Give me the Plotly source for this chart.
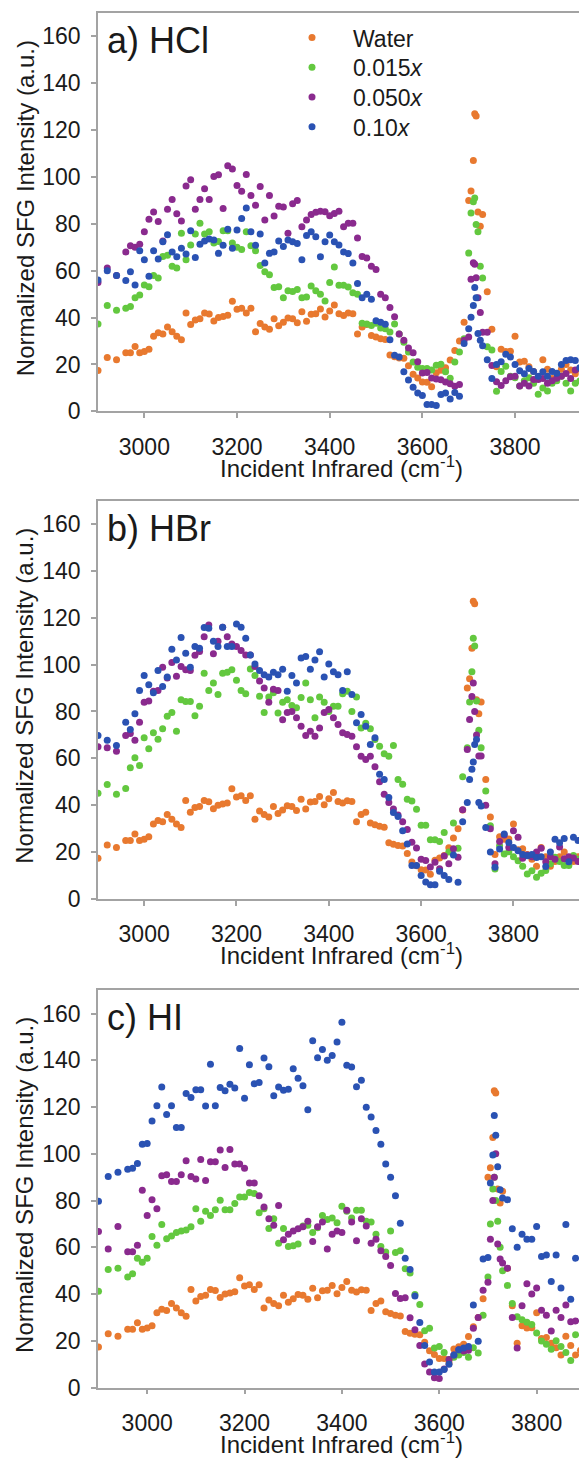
import plotly.graph_objects as go

# ---------------- data ----------------
# Incident IR wavenumber (cm-1) sampling used for every series
x_cm = [2900, 2920, 2940, 2960, 2970, 2980, 2990,
        3000, 3010, 3020, 3030, 3040, 3050, 3060, 3070, 3080, 3090,
        3100, 3110, 3120, 3130, 3140, 3150, 3160, 3170, 3180, 3190,
        3200, 3210, 3220, 3230, 3240, 3250, 3260, 3270, 3280, 3290,
        3300, 3310, 3320, 3330, 3340, 3350, 3360, 3370, 3380, 3390,
        3400, 3410, 3420, 3430, 3440, 3450, 3460, 3470, 3480, 3490,
        3500, 3510, 3520, 3530, 3540, 3550, 3560, 3570, 3580, 3590,
        3600, 3610, 3620, 3630, 3640, 3650, 3660, 3670, 3680, 3690,
        3700, 3705, 3710, 3713, 3716, 3720, 3725, 3730,
        3740, 3750, 3760, 3770, 3780, 3790, 3800, 3810, 3820, 3830,
        3840, 3850, 3860, 3870, 3880, 3890, 3900, 3910, 3920, 3930, 3940]

water = [17.4, 23, 22, 25, 25, 27.7, 25,
         25.5, 26.5, 32, 33.5, 33, 36, 34, 32, 30.5, 42,
         37, 39, 39.5, 42, 41.5, 38.5, 40, 40.5, 41, 47,
         43.5, 44, 42, 44, 34, 37.5, 36, 35, 39.5, 36.5,
         38, 39.8, 39.5, 37.8, 42.5, 38.4, 41.4, 41.6, 43.7, 40.2,
         42.8, 45.4, 41.6, 40.9, 41.9, 41.6, 33, 36, 37, 32.4,
         31.7, 31, 30.6, 24, 23.3, 22.8, 22.6, 19.4, 15.8, 14.2,
         12.5, 12.4, 10.5, 16.5, 17.5, 18.6, 21.9, 26, 30, 38,
         90, 94, 107, 127, 126, 85, 79, 84,
         51, 35, 19, 26.5, 25.5, 25.6, 32, 21, 21.4, 19,
         17, 14, 22, 18, 14, 16, 18, 20, 17.6, 16, 18]

hcl_015 = [37.3, 45.2, 43.1, 44, 44.7, 48.5, 49.6,
           53.9, 53.2, 58, 56.9, 66.1, 66.6, 61.9, 61.2, 76, 64.7,
           71, 75.7, 80.2, 75.7, 76.6, 71.8, 72.5, 77, 77, 71.8,
           70, 69, 76.6, 70.6, 68.5, 62.2, 59.5, 58.3, 52.8, 53.1,
           48.5, 51.4, 51.1, 52, 48.5, 48.8, 53.5, 51.4, 50, 47.1,
           55, 61.6, 53.8, 53.8, 53, 50.6, 50, 37.6, 37.3, 36.6,
           37.6, 35.6, 35.2, 33.8, 37.3, 33, 29.5, 25.3, 21, 18.8,
           18.3, 18.3, 17.6, 19.7, 20.1, 16.9, 14.1, 21, 25.3, 31,
           67.5, 84.6, 89.4, 91, 79.7, 76.6, 61.9, 56.9,
           27.6, 26.2, 8.6, 17, 19.2, 15, 14.3, 10.8, 13, 14.3,
           12, 7.3, 10, 8.7, 12, 13, 15, 12, 8.7, 12, 13]

hcl_050 = [55, 61.2, 58, 68, 70.6, 70, 71.3,
           76.6, 82, 85, 81, 72.7, 86.2, 90.4, 84.3, 81.2, 96.1,
           98.8, 86.2, 90.4, 95, 90.4, 100.2, 100.9, 86.5, 104.8, 103.4,
           96.4, 93.9, 101, 92.1, 87.9, 95.9, 81.6, 92.1, 83.3, 87.5,
           87.2, 76, 88.6, 90, 78.7, 81.6, 84, 84.9, 85.4, 85.1,
           83.4, 84.4, 85.4, 78.8, 80.2, 80.2, 73.9, 66.1, 65.4, 61.9,
           60.5, 49.9, 48.5, 44.3, 40.4, 33, 30.3, 27, 25, 21.2,
           16.3, 16.6, 14.2, 13.8, 13.5, 12.5, 11.8, 10.7, 11.4, 30.3,
           31.7, 56.3, 63.4, 62.7, 57, 48.5, 42.2, 33.7,
           33.7, 19.5, 12.6, 11, 13, 14.8, 15, 10.8, 12, 10.8,
           13.6, 13.6, 14, 12, 13, 14.1, 15, 16.1, 14, 17.6, 18.3]

hcl_010 = [56, 60, 58, 55.8, 59.5, 53.9, 68.5,
           64.7, 57.6, 68.5, 65, 72.3, 75.3, 68, 66, 69.6, 67.1,
           77, 65.6, 71.3, 72.7, 73.5, 73.1, 67.4, 70.9, 77.7, 69.6,
           77.4, 82.3, 86.8, 76.6, 70.9, 75.7, 63.3, 67.4, 68, 72.7,
           70.3, 73.1, 72.3, 71.6, 64.7, 75, 76.6, 74.5, 66, 72.3,
           75.2, 72.3, 71, 68, 67.3, 63.3, 54.5, 48.5, 50, 47.8,
           38.6, 38, 37.2, 30.5, 23.9, 23.2, 16.9, 13.4, 10.3, 7.8,
           6.7, 2.9, 2.9, 2.5, 7.2, 7.8, 5.3, 8, 6.4, 28.9,
           35.2, 40.1, 45.1, 52.8, 48.5, 33.2, 30.3, 28,
           22, 14, 20, 21.2, 24.3, 23.2, 20, 17.3, 16, 18.3,
           17, 15, 16.9, 15, 17, 16.2, 20, 21.7, 22, 21.7, 18.6]

hbr_015 = [45.1, 48.8, 44.7, 47.1, 56, 60.3, 57,
           68.8, 64.1, 70.9, 68.1, 72.6, 78, 79.6, 71.6, 85, 84.3,
           84.3, 78.2, 82.2, 96.3, 89, 92.2, 87.2, 96.3, 96.7, 97.8,
           93.3, 89, 87.6, 98.1, 95.3, 86.5, 79.6, 86.2, 88, 79.4,
           83.9, 85, 82.5, 81.6, 86, 92.1, 85, 77.3, 86.2, 83.9,
           80, 82.2, 82.2, 87.6, 88.6, 80, 86.2, 73, 75, 72.6,
           68, 65.2, 62, 60.9, 65.5, 51, 48.9, 42.5, 41.8, 38.3,
           31.5, 31.5, 25.3, 25.3, 24.5, 28.4, 20, 32.4, 21.6, 52.2,
           64.5, 84, 97, 111.2, 107.9, 84.5, 72, 64.5,
           46.1, 31.2, 12.8, 22.7, 19.2, 20.2, 18, 16.3, 14, 10.7,
           12, 9.3, 11, 12.1, 15, 17.8, 16, 14.3, 14.3, 18.5, 17]

hbr_050 = [64.9, 64.5, 63, 69.7, 70.6, 67.7, 75.4,
           83.9, 84.5, 88.6, 89, 98.9, 94.3, 100.9, 95, 99.2, 97.8,
           97.5, 104, 105.6, 111.9, 116.9, 104.6, 110, 115.9, 111.9, 108.8,
           107.7, 106, 104.1, 104.1, 99.2, 93, 90, 83.9, 89.5, 89,
           76.5, 79.6, 80, 77.3, 73.7, 69.7, 71.6, 69.4, 73, 79.6,
           80.8, 77.3, 74.4, 70.9, 70.2, 69.4, 64.9, 60.9, 59.5, 60.9,
           56.4, 50, 44.7, 41.2, 38.4, 35.8, 33, 29.6, 24.2, 21.7,
           16.9, 16.4, 13.6, 15.7, 12.9, 18.3, 15, 21.4, 17.8, 38.1,
           63.8, 76.6, 86.4, 92.1, 80, 70, 61, 61,
           40, 30, 15, 24.5, 27.3, 22, 29.1, 26.3, 17.4, 18.8,
           18, 20, 21.6, 15.9, 18, 16.9, 22.2, 17.2, 18, 17.5, 16]

hbr_010 = [69.8, 67.7, 65.5, 75.4, 72.3, 79, 89,
           95.3, 91.4, 88, 97.5, 90.7, 94.7, 106.5, 102, 111.6, 104.8,
           98.9, 107.7, 107, 115.8, 115.5, 110, 107.7, 115.9, 107.7, 107.7,
           117.3, 115.9, 111.2, 104.1, 100.3, 97.5, 95.7, 94.7, 96.7, 95.7,
           98, 88.6, 95.3, 92.2, 102.8, 103.5, 98, 102, 105.5, 94.7,
           100.3, 97, 95.7, 89, 97, 87.2, 75.2, 78.7, 73.7, 65.9,
           68.8, 53.2, 51, 43.3, 36.9, 35.2, 29.1, 23.5, 14.3, 14.3,
           10, 7.2, 6.1, 6.1, 11.8, 10, 8.3, 18.8, 7.1, 32.9,
           41.2, 51, 55.3, 58.4, 65.9, 68, 41.2, 39.7,
           30.5, 20, 13.5, 21.3, 27.7, 24.1, 22, 20.6, 19, 18.4,
           19, 17.7, 18, 13.9, 20, 25.5, 24, 25.8, 15.9, 26.3, 25]

hi_015 = [41.2, 50.5, 51.1, 47.3, 48.7, 55.3, 53.6,
          55.3, 64.6, 60.9, 69.8, 63.7, 64.9, 66.3, 67, 67.4, 68.8,
          76.5, 71.2, 75.4, 73.6, 76.1, 80.1, 76.1, 76.1, 78.7, 81.5,
          81.5, 83.5, 83, 74.8, 76.5, 68.1, 72.2, 61.8, 68.1, 60.4,
          60.7, 61.4, 69.1, 69.4, 66.3, 68.4, 73.6, 71.9, 72.6, 70.5,
          77.6, 75.4, 72.6, 75.9, 75.9, 71.2, 70.8, 65.6, 60.4, 58,
          67, 57.8, 58.5, 50.8, 49, 39.8, 35.6, 24.3, 25.4, 16.9,
          17.6, 15, 12, 13, 14, 15, 13, 17, 14.8, 31,
          47.3, 70, 85, 90, 80, 71.2, 60, 50,
          43.7, 36, 30.3, 29, 28, 27, 23.4, 19.9, 18.5, 16.4,
          20, 17.6, 15, 11.6, 22.6, None, None, None, None, None, None]

hi_050 = [66.8, 59.3, 68.9, 58.1, 58.1, 60.9, 84.4,
          73.6, 80.4, 76.5, 90.6, 91, 88.2, 88.2, 91, 97, 90.3,
          89.2, 97.6, 88.6, 96.6, 96.6, 101.6, 94.2, 101.8, 95.6, 95.6,
          93.8, 87.5, 87.5, 82.1, 77.3, 72.2, 69.4, 77.9, 63.2, 65.6,
          67, 68, 68.8, 71.2, 62.5, 68.8, 70.8, 59.3, 65.6, 67,
          66.3, 75.9, 70.8, 62.8, 72.2, 69.1, 61.8, 63.5, 58.5, 56.1,
          52.2, 40.3, 38.1, 38.4, 29.9, 24.7, 18, 10.1, 6.7, 4.2,
          3.9, 8, 12, 14, 16.2, 15.7, 16, 25.4, 30, 41.6,
          45.1, 63.5, 80, 90, 100, 61.4, 55, 53.3,
          51.1, 30, 16.9, 35, 44.4, 40, 42.6, 33.1, 31, 24.2,
          33.1, 30, 35.3, 28.2, 28.5, None, None, None, None, None, None]

hi_010 = [79.7, 90.3, 92.1, 93.4, 93.8, 95.9, 104.1,
          104.4, 114, 120.6, 128.6, 116.8, 120.6, 111.3, 111.3, 125.8, 124.1,
          127.4, 127.4, 120.5, 138.3, 120.6, 128.4, 127, 129.8, 128.1, 145,
          123.8, 138.1, 130, 130.5, 141, 137.2, 124.8, 128.6, 127.2, 127.6,
          136.4, 132.3, 129.1, 118.8, 148.4, 141.1, 144.6, 140, 142.1, 147.8,
          156.3, 137.9, 137.1, 128.7, 131.5, 119.9, 115.7, 110, 104.1, 95.6,
          90, 82.1, 70.3, 55.3, 50.5, 39.2, 27.9, 18, 11, 6.7,
          6.7, 7.7, 10, 14, 16.2, 16.9, 17.6, 35.3, 19.8, 55,
          55.7, 87.5, 99.5, 116.4, 107.9, 94.5, 84.6, 81.1,
          80.4, 68, 60, 65.6, 63.5, 63.5, 68.9, 56.1, 56.7, 45.4,
          56.7, 42.6, 69.8, 37.8, 55.3, None, None, None, None, None, None]

series_names = ["Water", "0.015<i>x</i>", "0.050<i>x</i>", "0.10<i>x</i>"]
series_colors = ["#E8792F", "#63C83F", "#8A2A8E", "#2A52B3"]
panel_labels = ["a) HCl", "b) HBr", "c) HI"]
panel_data = [
    [water, hcl_015, hcl_050, hcl_010],
    [water, hbr_015, hbr_050, hbr_010],
    [water, hi_015, hi_050, hi_010],
]
x_ranges = [[2900, 3938], [2900, 3942], [2899, 3887]]
y_tick_vals = [0, 20, 40, 60, 80, 100, 120, 140, 160]
x_tick_vals = [3000, 3200, 3400, 3600, 3800]

# ---------------- layout geometry ----------------
W, H = 579, 1469
ML = 98
PW = W - ML
panel_px = [(13, 415), (505, 907), (999, 1400)]  # top, bottom pixel of each plot area
legend_rows_px = [38, 68, 98, 128]                # centre of each legend row


def py(p):
    return 1 - p / H


def px(p):
    return (p - ML) / PW


fig = go.Figure()
AXC = "#A3A3A3"
TXT = "#1a1a1a"
FONT = "Liberation Sans, Arial, sans-serif"
legend_ids = ["legend", "legend2", "legend3", "legend4"]

for i, (label, data) in enumerate(zip(panel_labels, panel_data)):
    n = "" if i == 0 else str(i + 1)
    for k, (name, color, ys) in enumerate(zip(series_names, series_colors, data)):
        fig.add_trace(go.Scatter(
            x=x_cm, y=ys, mode="markers", name=name,
            marker=dict(color=color, size=7, line=dict(width=0)),
            xaxis="x" + n, yaxis="y" + n,
            showlegend=(i == 0), legend=legend_ids[k],
        ))
    top, bot = panel_px[i]
    fig.layout["xaxis" + n] = dict(
        domain=[0, 1], anchor="y" + n, range=x_ranges[i],
        tickvals=x_tick_vals, ticks="outside", ticklen=5, tickwidth=1.5,
        tickcolor=AXC, showline=True, linecolor=AXC, linewidth=1.5,
        mirror=True, showgrid=False, zeroline=False,
        tickfont=dict(size=23, color=TXT, family=FONT),
        ticklabelstandoff=9,
    )
    fig.layout["yaxis" + n] = dict(
        domain=[py(bot), py(top)], anchor="x" + n, range=[0, 170],
        tickvals=y_tick_vals, ticks="outside", ticklen=5, tickwidth=1.5,
        tickcolor=AXC, showline=True, linecolor=AXC, linewidth=1.5,
        showgrid=False, zeroline=False,
        tickfont=dict(size=23, color=TXT, family=FONT),
        ticklabelstandoff=6,
    )
    # panel label
    fig.add_annotation(text=label, xref="paper", yref="paper",
                       x=px(105), y=py(top + 28), xanchor="left", yanchor="middle",
                       showarrow=False, font=dict(size=36, color=TXT, family=FONT))
    # x title
    fig.add_annotation(text="Incident Infrared (cm<sup>-1</sup>)", xref="paper", yref="paper",
                       x=px(341), y=py(bot + 56), xanchor="center", yanchor="middle",
                       showarrow=False, font=dict(size=24, color=TXT, family=FONT))
    # y title
    fig.add_annotation(text="Normalized SFG Intensity (a.u.)", xref="paper", yref="paper",
                       x=px(25), y=py((top + bot) / 2 - 4), xanchor="center", yanchor="middle",
                       textangle=-90, showarrow=False,
                       font=dict(size=24, color=TXT, family=FONT))

legend_common = dict(xanchor="left", yanchor="middle",
                     bgcolor="rgba(0,0,0,0)", borderwidth=0,
                     itemwidth=72, tracegroupgap=0,
                     font=dict(size=23, color=TXT, family=FONT))
layout_legends = {}
for lid, row in zip(legend_ids, legend_rows_px):
    layout_legends[lid] = dict(x=px(271), y=py(row), **legend_common)

fig.update_layout(
    width=W, height=H,
    margin=dict(l=ML, r=0, t=0, b=0),
    paper_bgcolor="white", plot_bgcolor="white",
    font=dict(family=FONT, color=TXT),
    **layout_legends,
)

fig.write_html("out.html")
